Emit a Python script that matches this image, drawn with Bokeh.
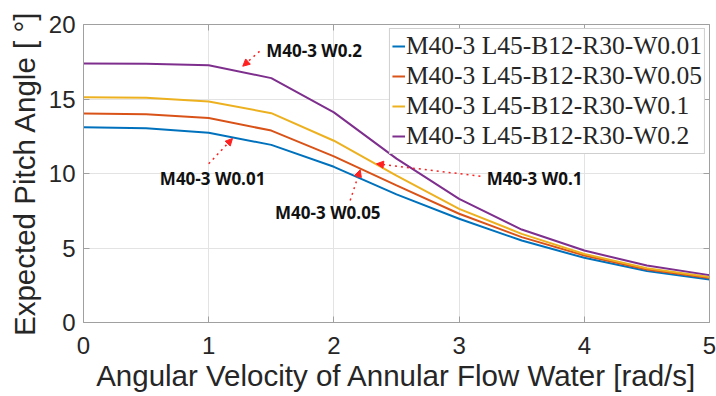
from bokeh.plotting import figure
from bokeh.models import (LinearAxis, Arrow, NormalHead, Label, Legend, LegendItem,
                          FixedTicker, CustomLabelingPolicy)
from bokeh.embed import file_html
from bokeh.resources import INLINE

# ---- data ----
omega = [0, 0.5, 1, 1.5, 2, 2.5, 3, 3.5, 4, 4.5, 5]
w001 = [13.10, 13.04, 12.74, 11.92, 10.45, 8.60, 6.96, 5.50, 4.34, 3.45, 2.88]
w005 = [14.03, 13.98, 13.72, 12.88, 11.15, 9.20, 7.30, 5.73, 4.50, 3.55, 2.98]
w01 = [15.12, 15.08, 14.83, 14.05, 12.20, 9.85, 7.63, 5.95, 4.60, 3.64, 3.05]
w02 = [17.38, 17.36, 17.26, 16.40, 14.10, 11.00, 8.30, 6.24, 4.83, 3.82, 3.18]
series = [w001, w005, w01, w02]
names = ["M40-3 L45-B12-R30-W0.01", "M40-3 L45-B12-R30-W0.05",
         "M40-3 L45-B12-R30-W0.1", "M40-3 L45-B12-R30-W0.2"]
colors = ["#0072BD", "#D95319", "#EDB120", "#7E2F8E"]

x_ticks = [0, 1, 2, 3, 4, 5]
y_ticks = [0, 5, 10, 15, 20]

ann_text = ["M40-3 W0.2", "M40-3 W0.01", "M40-3 W0.05", "M40-3 W0.1"]
ann_x = [1.46, 0.61, 1.53, 3.22]
ann_y = [18.26, 9.66, 7.38, 9.66]
tail_x = [1.406, 1.00, 2.13, 3.17]
tail_y = [18.20, 10.65, 8.19, 9.82]
head_x = [1.272, 1.19, 2.21, 2.34]
head_y = [17.20, 12.35, 10.25, 10.65]

# ---- figure ----
p = figure(width=716, height=396, x_range=(0, 5), y_range=(0, 20),
           output_backend="svg", toolbar_location=None,
           min_border_left=83, min_border_right=7, min_border_top=24, min_border_bottom=74)
p.outline_line_color = None
p.background_fill_color = "white"

frame_col = "#a0a0a0"
for ax in (p.xaxis[0], p.yaxis[0]):
    ax.axis_line_color = frame_col
    ax.major_tick_line_color = frame_col
    ax.major_tick_in = 6
    ax.major_tick_out = 0
    ax.minor_tick_line_color = None
    ax.major_label_text_font = "Liberation Sans"
    ax.major_label_text_font_size = "24px"
    ax.major_label_text_color = "#262626"
    ax.axis_label_text_font = "Liberation Sans"
    ax.axis_label_text_font_size = "29.5px"
    ax.axis_label_text_font_style = "normal"
    ax.axis_label_text_color = "#262626"

p.xaxis.ticker = FixedTicker(ticks=x_ticks)
p.yaxis.ticker = FixedTicker(ticks=y_ticks)
p.xaxis.axis_label = "Angular Velocity of Annular Flow Water [rad/s]"
p.yaxis.axis_label = "Expected Pitch Angle [ °]"
p.xaxis.major_label_standoff = 14
p.xaxis.axis_label_standoff = 2
p.yaxis.major_label_standoff = 8
p.yaxis.axis_label_standoff = 5

hide_labels = CustomLabelingPolicy(code="""
    for (const i of Array.from(indices)) { indices.unset(i) }
    return indices
""")
for loc, tk in (("above", x_ticks), ("right", y_ticks)):
    a = LinearAxis(ticker=FixedTicker(ticks=tk), axis_line_color=frame_col,
                   major_tick_line_color=frame_col, major_tick_in=6, major_tick_out=0,
                   minor_tick_line_color=None, major_label_text_font_size="1px",
                   major_label_standoff=0, major_label_policy=hide_labels)
    p.add_layout(a, loc)

p.xgrid.grid_line_color = "#e3e3e3"
p.ygrid.grid_line_color = "#e3e3e3"
p.xgrid.ticker = FixedTicker(ticks=x_ticks)
p.ygrid.ticker = FixedTicker(ticks=y_ticks)

items = []
for ys, nm, c in zip(series, names, colors):
    r = p.line(omega, ys, line_color=c, line_width=2)
    items.append(LegendItem(label=nm, renderers=[r]))

legend = Legend(items=items, location="top_right",
                label_text_font="Liberation Serif", label_text_font_size="25.5px",
                label_text_color="#262626",
                glyph_width=13, glyph_height=20, label_standoff=1, label_height=20,
                spacing=0, padding=2, margin=4,
                border_line_color="#a0a0a0", border_line_width=1,
                background_fill_color="white", background_fill_alpha=1)
p.add_layout(legend, "center")

for t, x, y in zip(ann_text, ann_x, ann_y):
    p.add_layout(Label(x=x, y=y, text=t, text_font="Open Sans", text_font_style="bold",
                       text_font_size="17px", text_color="#111111", text_baseline="middle"))

for xs, ys, xe, ye in zip(tail_x, tail_y, head_x, head_y):
    p.add_layout(Arrow(end=NormalHead(size=7, fill_color="#ff2020", line_color="#ff2020", line_width=1),
                       x_start=xs, y_start=ys, x_end=xe, y_end=ye,
                       line_color="#ff2020", line_width=1.5, line_dash="dotted"))

open("out.html", "w").write(file_html(p, INLINE))
